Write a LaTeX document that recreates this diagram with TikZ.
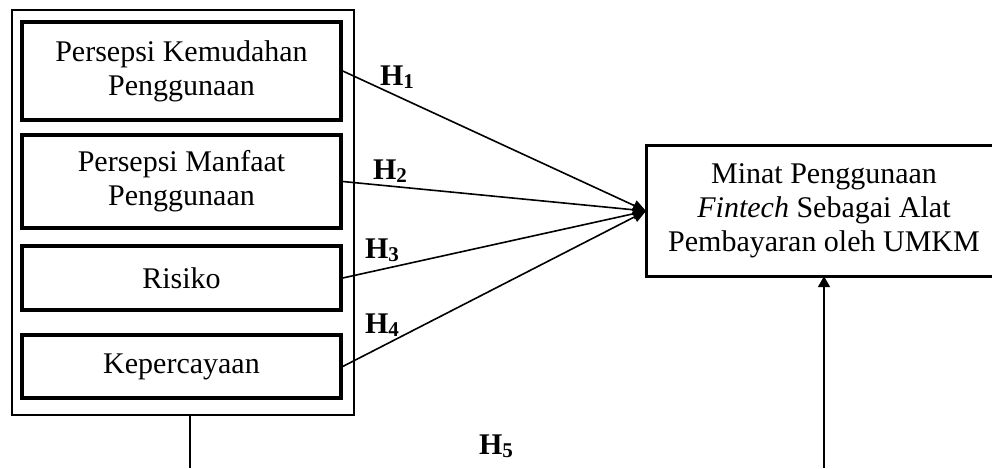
\documentclass[tikz,border=0pt]{standalone}
\usepackage{fontspec}
\setmainfont{Liberation Serif}
\usetikzlibrary{arrows.meta}
\newcommand{\hyp}[1]{H\raisebox{-0.22ex}{\fontsize{21}{24}\selectfont #1}}
\begin{document}
\begin{tikzpicture}[x=1pt,y=-1pt,
  every node/.style={font=\fontsize{30}{34}\selectfont},
  varbox/.style={draw,line width=3.5pt,align=center,inner sep=0pt,minimum width=319pt},
  groupbox/.style={draw,line width=2pt,inner sep=0pt,minimum width=342pt,minimum height=405pt},
  targetbox/.style={inner sep=0pt,minimum width=370pt,minimum height=130pt,anchor=west},
  frameline/.style={line width=3pt,line join=miter},
  hlabel/.style={font=\fontsize{30}{32}\selectfont\bfseries,inner sep=0pt},
  link/.style={line width=1.6pt,-{Triangle[length=13pt,width=11pt]}},
  feed/.style={line width=2pt}
]
\useasboundingbox (0,0) rectangle (992,468);

% independent variables grouped in one frame
\node[groupbox] (group) at (183,212.5) {};
\node[varbox,minimum height=98pt] (pkp) at (181.5,71) {Persepsi Kemudahan\\Penggunaan};
\node[varbox,minimum height=93pt] (pmp) at (181.5,181.5) {Persepsi Manfaat\\Penggunaan};
\node[varbox,minimum height=64pt] (ris) at (181.5,278) {Risiko};
\node[varbox,minimum height=63pt] (kep) at (181.5,366.5) {Kepercayaan};

% dependent variable: its frame runs on past the right page edge
\node[targetbox] (minat) at (646,211) {};
\draw[frameline] (minat.north east) -- (minat.north west) -- (minat.south west) -- (minat.south east);
\node[align=center,inner sep=0pt] (minattext) at (824,211) {Minat Penggunaan\\\textit{Fintech} Sebagai Alat\\Pembayaran oleh UMKM};

% hypotheses H1--H4
\draw[link] (pkp.east) -- (minat.west);
\draw[link] (pmp.east) -- (minat.west);
\draw[link] (ris.east) -- (minat.west);
\draw[link] (kep.east) -- (minat.west);

\node[hlabel] (h1) at (397,77) {\hyp{1}};
\node[hlabel] (h2) at (390,171) {\hyp{2}};
\node[hlabel] (h3) at (382,250) {\hyp{3}};
\node[hlabel] (h4) at (382,325) {\hyp{4}};
\node[hlabel] (h5) at (496,446) {\hyp{5}};

% simultaneous effect H5
\coordinate (gdown) at (190,468);
\coordinate (tup) at (824,468);
\draw[feed] (group.south -| gdown) -- (gdown);
\draw[feed,-{Triangle[length=11pt,width=12pt]}] (tup) -- (tup |- minat.south);
\end{tikzpicture}
\end{document}
